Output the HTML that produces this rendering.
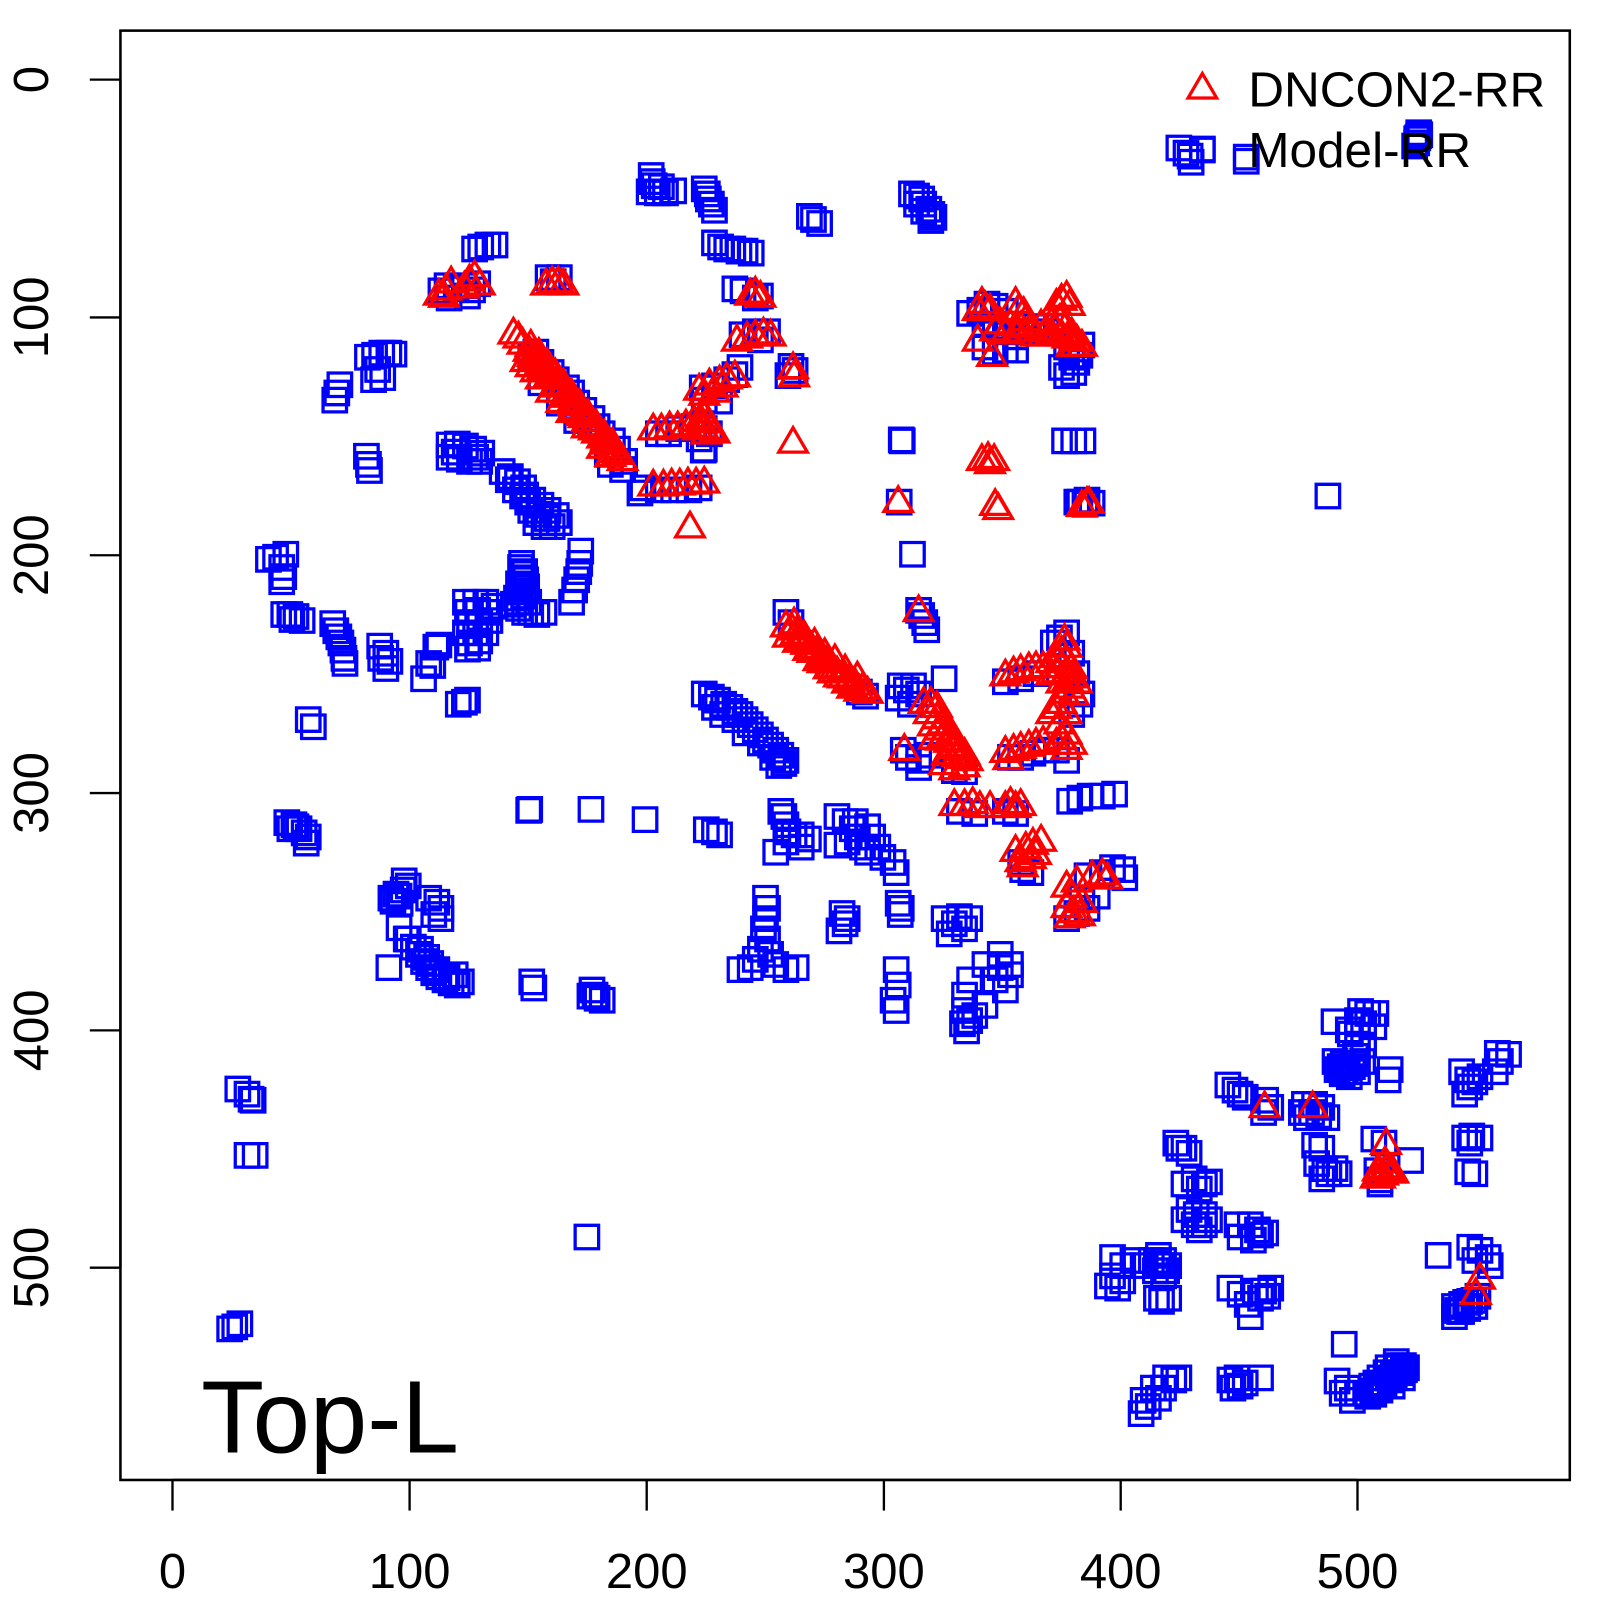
<!DOCTYPE html>
<html><head><meta charset="utf-8"><style>html,body{margin:0;padding:0;background:#fff}svg{display:block}</style></head>
<body>
<svg width="1600" height="1600" viewBox="0 0 1567.6 1567.6" xmlns="http://www.w3.org/2000/svg" font-family="'Liberation Sans', Arial, sans-serif">
<defs>
<path id="q" d="M-11.5,-11.5h23v23h-23z" fill="none" stroke="#0000ff" stroke-width="3.2"/>
<path id="t" d="M0,-16L14,8H-14z" fill="none" stroke="#ff0000" stroke-width="3.2"/>
</defs>
<rect width="1567.6" height="1567.6" fill="#fff"/>
<g id="squares">
<use href="#q" x="465" y="244"/><use href="#q" x="478" y="240"/><use href="#q" x="485" y="240"/><use href="#q" x="471" y="242"/>
<use href="#q" x="432" y="285"/><use href="#q" x="438" y="280"/><use href="#q" x="447" y="283"/><use href="#q" x="455" y="280"/><use href="#q" x="463" y="284"/><use href="#q" x="440" y="292"/><use href="#q" x="458" y="290"/><use href="#q" x="468" y="278"/>
<use href="#q" x="537" y="272"/><use href="#q" x="548" y="272"/><use href="#q" x="542" y="276"/>
<use href="#q" x="360" y="350"/><use href="#q" x="367" y="348"/><use href="#q" x="374" y="346"/><use href="#q" x="381" y="346"/><use href="#q" x="386" y="347"/><use href="#q" x="366" y="372"/><use href="#q" x="375" y="370"/><use href="#q" x="370" y="362"/><use href="#q" x="328" y="392"/><use href="#q" x="333" y="377"/><use href="#q" x="330" y="385"/>
<use href="#q" x="359" y="447"/><use href="#q" x="361" y="455"/><use href="#q" x="362" y="461"/>
<use href="#q" x="440" y="436"/><use href="#q" x="448" y="435"/><use href="#q" x="456" y="437"/><use href="#q" x="464" y="440"/><use href="#q" x="472" y="444"/><use href="#q" x="440" y="448"/><use href="#q" x="450" y="450"/><use href="#q" x="460" y="452"/><use href="#q" x="470" y="452"/><use href="#q" x="445" y="443"/><use href="#q" x="466" y="448"/>
<use href="#q" x="492" y="462"/><use href="#q" x="500" y="467"/><use href="#q" x="507" y="472"/><use href="#q" x="513" y="478"/><use href="#q" x="498" y="470"/>
<use href="#q" x="515" y="485"/><use href="#q" x="522" y="490"/><use href="#q" x="530" y="495"/><use href="#q" x="537" y="500"/>
<use href="#q" x="520" y="350"/><use href="#q" x="525" y="345"/><use href="#q" x="530" y="355"/><use href="#q" x="540" y="365"/><use href="#q" x="545" y="372"/><use href="#q" x="555" y="380"/><use href="#q" x="560" y="385"/><use href="#q" x="565" y="395"/><use href="#q" x="572" y="402"/><use href="#q" x="580" y="410"/><use href="#q" x="585" y="418"/><use href="#q" x="590" y="425"/><use href="#q" x="600" y="432"/><use href="#q" x="605" y="440"/><use href="#q" x="612" y="452"/><use href="#q" x="595" y="445"/><use href="#q" x="530" y="375"/><use href="#q" x="548" y="395"/><use href="#q" x="565" y="412"/><use href="#q" x="610" y="460"/><use href="#q" x="598" y="455"/>
<use href="#q" x="638" y="172"/><use href="#q" x="639" y="178"/><use href="#q" x="636" y="188"/><use href="#q" x="644" y="189"/><use href="#q" x="652" y="189"/><use href="#q" x="660" y="187"/><use href="#q" x="648" y="183"/><use href="#q" x="641" y="182"/>
<use href="#q" x="690" y="185"/><use href="#q" x="693" y="190"/><use href="#q" x="694" y="195"/><use href="#q" x="697" y="200"/><use href="#q" x="700" y="206"/>
<use href="#q" x="793" y="212"/><use href="#q" x="797" y="215"/><use href="#q" x="803" y="219"/>
<use href="#q" x="700" y="238"/><use href="#q" x="706" y="242"/><use href="#q" x="712" y="244"/><use href="#q" x="718" y="244"/><use href="#q" x="724" y="246"/><use href="#q" x="730" y="246"/><use href="#q" x="736" y="248"/>
<use href="#q" x="720" y="283"/><use href="#q" x="728" y="285"/><use href="#q" x="740" y="292"/><use href="#q" x="745" y="290"/>
<use href="#q" x="727" y="328"/><use href="#q" x="740" y="325"/><use href="#q" x="752" y="325"/><use href="#q" x="745" y="333"/>
<use href="#q" x="775" y="359"/><use href="#q" x="772" y="368"/><use href="#q" x="779" y="363"/>
<use href="#q" x="688" y="380"/><use href="#q" x="700" y="378"/><use href="#q" x="712" y="372"/><use href="#q" x="690" y="392"/><use href="#q" x="705" y="393"/><use href="#q" x="720" y="367"/><use href="#q" x="725" y="360"/>
<use href="#q" x="645" y="425"/><use href="#q" x="655" y="425"/><use href="#q" x="665" y="420"/><use href="#q" x="680" y="418"/><use href="#q" x="690" y="420"/><use href="#q" x="695" y="425"/><use href="#q" x="685" y="430"/><use href="#q" x="690" y="440"/><use href="#q" x="689" y="441"/>
<use href="#q" x="630" y="478"/><use href="#q" x="645" y="480"/><use href="#q" x="660" y="480"/><use href="#q" x="675" y="480"/><use href="#q" x="685" y="478"/><use href="#q" x="627" y="483"/>
<use href="#q" x="893" y="190"/><use href="#q" x="898" y="192"/><use href="#q" x="903" y="195"/><use href="#q" x="898" y="200"/><use href="#q" x="905" y="200"/><use href="#q" x="910" y="205"/><use href="#q" x="913" y="210"/><use href="#q" x="915" y="213"/><use href="#q" x="905" y="207"/><use href="#q" x="912" y="216"/>
<use href="#q" x="883" y="431"/><use href="#q" x="884" y="432"/><use href="#q" x="881" y="492"/><use href="#q" x="894" y="543"/>
<use href="#q" x="1043" y="432"/><use href="#q" x="1052" y="432"/><use href="#q" x="1061" y="432"/>
<use href="#q" x="1058" y="492"/><use href="#q" x="1063" y="494"/><use href="#q" x="1055" y="492"/><use href="#q" x="1065" y="490"/><use href="#q" x="1070" y="493"/>
<use href="#q" x="1301" y="486"/>
<use href="#q" x="950" y="307"/><use href="#q" x="960" y="304"/><use href="#q" x="967" y="298"/><use href="#q" x="975" y="300"/><use href="#q" x="985" y="305"/><use href="#q" x="965" y="318"/><use href="#q" x="975" y="320"/><use href="#q" x="985" y="325"/><use href="#q" x="995" y="330"/><use href="#q" x="1005" y="325"/><use href="#q" x="1015" y="320"/><use href="#q" x="1025" y="325"/><use href="#q" x="1035" y="320"/><use href="#q" x="965" y="340"/><use href="#q" x="975" y="345"/><use href="#q" x="985" y="343"/><use href="#q" x="995" y="343"/><use href="#q" x="1045" y="340"/><use href="#q" x="1050" y="350"/><use href="#q" x="1055" y="355"/><use href="#q" x="1052" y="365"/><use href="#q" x="1045" y="368"/><use href="#q" x="1058" y="348"/><use href="#q" x="1060" y="338"/><use href="#q" x="1040" y="360"/>
<use href="#q" x="1155" y="145"/><use href="#q" x="1166" y="153"/><use href="#q" x="1167" y="159"/><use href="#q" x="1178" y="147"/><use href="#q" x="1162" y="150"/><use href="#q" x="1221" y="154"/><use href="#q" x="1221" y="158"/>
<use href="#q" x="1388" y="136"/><use href="#q" x="1388" y="140"/><use href="#q" x="1386" y="143"/><use href="#q" x="1390" y="133"/><use href="#q" x="1389" y="135"/><use href="#q" x="1390" y="130"/><use href="#q" x="1391" y="132"/>
<use href="#q" x="505" y="480"/><use href="#q" x="512" y="486"/><use href="#q" x="517" y="492"/><use href="#q" x="520" y="500"/><use href="#q" x="528" y="504"/><use href="#q" x="525" y="512"/><use href="#q" x="533" y="516"/><use href="#q" x="541" y="516"/><use href="#q" x="548" y="512"/><use href="#q" x="536" y="508"/><use href="#q" x="545" y="505"/>
<use href="#q" x="569" y="540"/><use href="#q" x="568" y="552"/><use href="#q" x="567" y="560"/><use href="#q" x="565" y="568"/><use href="#q" x="563" y="578"/><use href="#q" x="560" y="590"/>
<use href="#q" x="510" y="556"/><use href="#q" x="514" y="560"/><use href="#q" x="512" y="566"/><use href="#q" x="508" y="572"/><use href="#q" x="510" y="580"/><use href="#q" x="506" y="586"/><use href="#q" x="503" y="592"/><use href="#q" x="508" y="596"/><use href="#q" x="514" y="600"/><use href="#q" x="518" y="590"/><use href="#q" x="516" y="575"/><use href="#q" x="520" y="600"/><use href="#q" x="526" y="602"/><use href="#q" x="533" y="600"/>
<use href="#q" x="456" y="590"/><use href="#q" x="466" y="590"/><use href="#q" x="476" y="590"/><use href="#q" x="484" y="594"/><use href="#q" x="458" y="600"/><use href="#q" x="468" y="598"/><use href="#q" x="478" y="600"/><use href="#q" x="460" y="610"/><use href="#q" x="470" y="610"/><use href="#q" x="480" y="608"/><use href="#q" x="456" y="620"/><use href="#q" x="466" y="620"/><use href="#q" x="476" y="620"/><use href="#q" x="460" y="630"/><use href="#q" x="470" y="628"/><use href="#q" x="458" y="636"/><use href="#q" x="468" y="635"/>
<use href="#q" x="427" y="634"/><use href="#q" x="430" y="632"/><use href="#q" x="424" y="652"/><use href="#q" x="420" y="650"/><use href="#q" x="415" y="665"/>
<use href="#q" x="449" y="690"/><use href="#q" x="458" y="686"/><use href="#q" x="455" y="688"/>
<use href="#q" x="372" y="633"/><use href="#q" x="378" y="640"/><use href="#q" x="382" y="648"/><use href="#q" x="378" y="655"/><use href="#q" x="373" y="645"/>
<use href="#q" x="326" y="611"/><use href="#q" x="329" y="618"/><use href="#q" x="332" y="624"/><use href="#q" x="334" y="630"/><use href="#q" x="336" y="637"/><use href="#q" x="337" y="645"/><use href="#q" x="338" y="650"/>
<use href="#q" x="278" y="602"/><use href="#q" x="284" y="602"/><use href="#q" x="290" y="604"/><use href="#q" x="296" y="608"/><use href="#q" x="286" y="607"/>
<use href="#q" x="263" y="548"/><use href="#q" x="270" y="546"/><use href="#q" x="280" y="543"/><use href="#q" x="276" y="556"/><use href="#q" x="278" y="565"/><use href="#q" x="276" y="570"/>
<use href="#q" x="302" y="705"/><use href="#q" x="307" y="712"/>
<use href="#q" x="281" y="806"/><use href="#q" x="288" y="808"/><use href="#q" x="293" y="812"/><use href="#q" x="298" y="816"/><use href="#q" x="302" y="820"/><use href="#q" x="300" y="826"/><use href="#q" x="290" y="810"/><use href="#q" x="284" y="812"/>
<use href="#q" x="518" y="794"/><use href="#q" x="519" y="793"/><use href="#q" x="579" y="793"/>
<use href="#q" x="396" y="863"/><use href="#q" x="391" y="878"/><use href="#q" x="385" y="883"/><use href="#q" x="383" y="880"/><use href="#q" x="388" y="876"/><use href="#q" x="395" y="872"/><use href="#q" x="400" y="868"/><use href="#q" x="392" y="885"/>
<use href="#q" x="420" y="880"/><use href="#q" x="428" y="884"/><use href="#q" x="432" y="890"/><use href="#q" x="425" y="896"/><use href="#q" x="432" y="900"/>
<use href="#q" x="391" y="909"/><use href="#q" x="398" y="920"/>
<use href="#q" x="400" y="920"/><use href="#q" x="405" y="928"/><use href="#q" x="410" y="935"/><use href="#q" x="415" y="942"/><use href="#q" x="420" y="948"/><use href="#q" x="425" y="953"/><use href="#q" x="430" y="957"/><use href="#q" x="436" y="960"/><use href="#q" x="442" y="963"/><use href="#q" x="448" y="965"/><use href="#q" x="452" y="962"/><use href="#q" x="446" y="955"/>
<use href="#q" x="381" y="948"/><use href="#q" x="521" y="962"/><use href="#q" x="523" y="968"/>
<use href="#q" x="580" y="970"/><use href="#q" x="583" y="975"/><use href="#q" x="578" y="976"/><use href="#q" x="585" y="978"/><use href="#q" x="590" y="980"/>
<use href="#q" x="233" y="1067"/><use href="#q" x="242" y="1072"/><use href="#q" x="246" y="1077"/><use href="#q" x="248" y="1078"/><use href="#q" x="242" y="1132"/><use href="#q" x="250" y="1132"/><use href="#q" x="575" y="1212"/><use href="#q" x="225" y="1302"/><use href="#q" x="230" y="1300"/><use href="#q" x="235" y="1297"/>
<use href="#q" x="770" y="600"/><use href="#q" x="775" y="610"/><use href="#q" x="842" y="678"/><use href="#q" x="848" y="682"/>
<use href="#q" x="690" y="680"/><use href="#q" x="697" y="683"/><use href="#q" x="703" y="686"/><use href="#q" x="709" y="690"/><use href="#q" x="715" y="693"/><use href="#q" x="720" y="697"/><use href="#q" x="725" y="700"/><use href="#q" x="730" y="705"/><use href="#q" x="735" y="710"/><use href="#q" x="740" y="715"/><use href="#q" x="745" y="720"/><use href="#q" x="750" y="725"/><use href="#q" x="755" y="730"/><use href="#q" x="760" y="735"/><use href="#q" x="765" y="740"/><use href="#q" x="768" y="748"/><use href="#q" x="763" y="750"/><use href="#q" x="708" y="700"/><use href="#q" x="720" y="705"/><use href="#q" x="700" y="693"/><use href="#q" x="730" y="718"/><use href="#q" x="745" y="728"/><use href="#q" x="757" y="742"/><use href="#q" x="770" y="745"/>
<use href="#q" x="882" y="672"/><use href="#q" x="888" y="676"/><use href="#q" x="895" y="672"/><use href="#q" x="900" y="680"/><use href="#q" x="925" y="665"/><use href="#q" x="880" y="684"/><use href="#q" x="892" y="690"/>
<use href="#q" x="900" y="598"/><use href="#q" x="903" y="603"/><use href="#q" x="906" y="610"/><use href="#q" x="908" y="617"/>
<use href="#q" x="885" y="735"/><use href="#q" x="890" y="742"/><use href="#q" x="900" y="745"/><use href="#q" x="910" y="740"/><use href="#q" x="935" y="755"/><use href="#q" x="945" y="756"/><use href="#q" x="900" y="752"/>
<use href="#q" x="940" y="795"/><use href="#q" x="955" y="797"/><use href="#q" x="985" y="795"/><use href="#q" x="995" y="797"/>
<use href="#q" x="1032" y="630"/><use href="#q" x="1038" y="625"/><use href="#q" x="1045" y="620"/><use href="#q" x="1050" y="640"/><use href="#q" x="1055" y="660"/><use href="#q" x="1060" y="680"/><use href="#q" x="985" y="668"/><use href="#q" x="1000" y="665"/><use href="#q" x="1015" y="660"/><use href="#q" x="1050" y="700"/><use href="#q" x="1058" y="690"/>
<use href="#q" x="990" y="742"/><use href="#q" x="1000" y="742"/><use href="#q" x="1012" y="738"/><use href="#q" x="1025" y="735"/><use href="#q" x="1035" y="735"/><use href="#q" x="1045" y="745"/>
<use href="#q" x="1048" y="785"/><use href="#q" x="1058" y="782"/><use href="#q" x="1068" y="780"/><use href="#q" x="1080" y="780"/><use href="#q" x="1092" y="778"/>
<use href="#q" x="1002" y="852"/><use href="#q" x="1010" y="855"/><use href="#q" x="1000" y="845"/>
<use href="#q" x="1065" y="858"/><use href="#q" x="1080" y="855"/><use href="#q" x="1090" y="850"/><use href="#q" x="1100" y="852"/><use href="#q" x="1102" y="860"/><use href="#q" x="1060" y="880"/><use href="#q" x="1055" y="895"/><use href="#q" x="1065" y="890"/><use href="#q" x="1075" y="878"/><use href="#q" x="1045" y="900"/>
<use href="#q" x="632" y="803"/><use href="#q" x="692" y="813"/><use href="#q" x="700" y="815"/><use href="#q" x="705" y="818"/>
<use href="#q" x="765" y="795"/><use href="#q" x="768" y="800"/><use href="#q" x="770" y="808"/><use href="#q" x="772" y="815"/><use href="#q" x="778" y="818"/><use href="#q" x="785" y="818"/><use href="#q" x="792" y="822"/><use href="#q" x="760" y="835"/><use href="#q" x="770" y="825"/><use href="#q" x="785" y="830"/>
<use href="#q" x="820" y="800"/><use href="#q" x="828" y="805"/><use href="#q" x="835" y="812"/><use href="#q" x="840" y="820"/><use href="#q" x="830" y="825"/><use href="#q" x="820" y="828"/><use href="#q" x="845" y="830"/><use href="#q" x="850" y="835"/><use href="#q" x="855" y="820"/><use href="#q" x="860" y="830"/><use href="#q" x="865" y="840"/><use href="#q" x="875" y="845"/><use href="#q" x="878" y="855"/><use href="#q" x="838" y="805"/><use href="#q" x="850" y="810"/>
<use href="#q" x="750" y="880"/><use href="#q" x="752" y="890"/><use href="#q" x="750" y="900"/><use href="#q" x="748" y="910"/><use href="#q" x="752" y="920"/><use href="#q" x="745" y="930"/><use href="#q" x="740" y="940"/><use href="#q" x="760" y="945"/><use href="#q" x="770" y="950"/><use href="#q" x="780" y="948"/><use href="#q" x="725" y="950"/><use href="#q" x="735" y="948"/><use href="#q" x="755" y="935"/>
<use href="#q" x="825" y="895"/><use href="#q" x="828" y="905"/><use href="#q" x="822" y="912"/><use href="#q" x="830" y="900"/>
<use href="#q" x="880" y="885"/><use href="#q" x="883" y="890"/><use href="#q" x="882" y="896"/>
<use href="#q" x="925" y="900"/><use href="#q" x="935" y="905"/><use href="#q" x="940" y="898"/><use href="#q" x="950" y="900"/><use href="#q" x="930" y="915"/><use href="#q" x="945" y="910"/>
<use href="#q" x="878" y="950"/><use href="#q" x="880" y="965"/><use href="#q" x="875" y="980"/><use href="#q" x="878" y="990"/>
<use href="#q" x="965" y="945"/><use href="#q" x="980" y="948"/><use href="#q" x="990" y="955"/><use href="#q" x="975" y="960"/><use href="#q" x="985" y="970"/><use href="#q" x="950" y="960"/><use href="#q" x="945" y="975"/><use href="#q" x="945" y="990"/><use href="#q" x="955" y="995"/><use href="#q" x="965" y="985"/><use href="#q" x="990" y="945"/><use href="#q" x="980" y="935"/>
<use href="#q" x="943" y="1003"/><use href="#q" x="950" y="1000"/><use href="#q" x="947" y="1010"/>
<use href="#q" x="1307" y="1001"/><use href="#q" x="1333" y="991"/><use href="#q" x="1340" y="993"/><use href="#q" x="1348" y="993"/><use href="#q" x="1336" y="1003"/><use href="#q" x="1346" y="1006"/><use href="#q" x="1321" y="1009"/><use href="#q" x="1330" y="1000"/>
<use href="#q" x="1323" y="1013"/><use href="#q" x="1336" y="1024"/><use href="#q" x="1330" y="1026"/>
<use href="#q" x="1308" y="1040"/><use href="#q" x="1316" y="1042"/><use href="#q" x="1325" y="1045"/><use href="#q" x="1318" y="1050"/><use href="#q" x="1310" y="1048"/><use href="#q" x="1322" y="1055"/><use href="#q" x="1330" y="1050"/><use href="#q" x="1328" y="1035"/><use href="#q" x="1335" y="1040"/>
<use href="#q" x="1362" y="1048"/><use href="#q" x="1360" y="1058"/>
<use href="#q" x="1432" y="1050"/><use href="#q" x="1438" y="1058"/><use href="#q" x="1440" y="1065"/><use href="#q" x="1435" y="1072"/><use href="#q" x="1445" y="1060"/><use href="#q" x="1450" y="1055"/>
<use href="#q" x="1467" y="1032"/><use href="#q" x="1478" y="1033"/><use href="#q" x="1470" y="1040"/><use href="#q" x="1465" y="1050"/>
<use href="#q" x="1203" y="1063"/><use href="#q" x="1210" y="1068"/><use href="#q" x="1215" y="1072"/><use href="#q" x="1220" y="1075"/><use href="#q" x="1240" y="1078"/><use href="#q" x="1245" y="1085"/><use href="#q" x="1238" y="1090"/>
<use href="#q" x="1278" y="1082"/><use href="#q" x="1288" y="1082"/><use href="#q" x="1295" y="1085"/><use href="#q" x="1285" y="1090"/><use href="#q" x="1292" y="1093"/><use href="#q" x="1280" y="1095"/><use href="#q" x="1300" y="1095"/><use href="#q" x="1275" y="1090"/>
<use href="#q" x="1288" y="1122"/><use href="#q" x="1295" y="1125"/><use href="#q" x="1290" y="1140"/><use href="#q" x="1298" y="1145"/><use href="#q" x="1302" y="1150"/><use href="#q" x="1295" y="1155"/><use href="#q" x="1308" y="1145"/><use href="#q" x="1312" y="1150"/>
<use href="#q" x="1346" y="1116"/><use href="#q" x="1356" y="1120"/><use href="#q" x="1349" y="1147"/><use href="#q" x="1352" y="1156"/><use href="#q" x="1382" y="1137"/><use href="#q" x="1352" y="1160"/>
<use href="#q" x="1435" y="1115"/><use href="#q" x="1442" y="1113"/><use href="#q" x="1450" y="1115"/><use href="#q" x="1440" y="1120"/><use href="#q" x="1438" y="1148"/><use href="#q" x="1445" y="1150"/>
<use href="#q" x="1152" y="1120"/><use href="#q" x="1160" y="1125"/><use href="#q" x="1165" y="1130"/><use href="#q" x="1155" y="1125"/>
<use href="#q" x="1160" y="1160"/><use href="#q" x="1170" y="1155"/><use href="#q" x="1180" y="1160"/><use href="#q" x="1185" y="1158"/><use href="#q" x="1175" y="1165"/>
<use href="#q" x="1165" y="1185"/><use href="#q" x="1172" y="1190"/><use href="#q" x="1180" y="1190"/><use href="#q" x="1170" y="1200"/><use href="#q" x="1180" y="1200"/><use href="#q" x="1175" y="1205"/><use href="#q" x="1185" y="1195"/><use href="#q" x="1160" y="1195"/>
<use href="#q" x="1212" y="1200"/><use href="#q" x="1225" y="1200"/><use href="#q" x="1232" y="1205"/><use href="#q" x="1235" y="1210"/><use href="#q" x="1228" y="1215"/><use href="#q" x="1215" y="1212"/><use href="#q" x="1240" y="1208"/>
<use href="#q" x="1090" y="1232"/><use href="#q" x="1100" y="1240"/><use href="#q" x="1110" y="1235"/><use href="#q" x="1120" y="1240"/><use href="#q" x="1128" y="1235"/><use href="#q" x="1135" y="1230"/><use href="#q" x="1140" y="1235"/><use href="#q" x="1145" y="1240"/><use href="#q" x="1132" y="1245"/><use href="#q" x="1140" y="1250"/><use href="#q" x="1090" y="1250"/><use href="#q" x="1100" y="1255"/><use href="#q" x="1085" y="1260"/><use href="#q" x="1095" y="1262"/>
<use href="#q" x="1133" y="1272"/><use href="#q" x="1145" y="1272"/><use href="#q" x="1138" y="1275"/>
<use href="#q" x="1205" y="1262"/><use href="#q" x="1215" y="1268"/><use href="#q" x="1230" y="1265"/><use href="#q" x="1238" y="1265"/><use href="#q" x="1245" y="1262"/><use href="#q" x="1235" y="1272"/><use href="#q" x="1242" y="1270"/><use href="#q" x="1222" y="1278"/><use href="#q" x="1225" y="1290"/>
<use href="#q" x="1409" y="1230"/>
<use href="#q" x="1440" y="1222"/><use href="#q" x="1450" y="1225"/><use href="#q" x="1458" y="1232"/><use href="#q" x="1445" y="1235"/><use href="#q" x="1460" y="1240"/>
<use href="#q" x="1425" y="1280"/><use href="#q" x="1432" y="1278"/><use href="#q" x="1440" y="1275"/><use href="#q" x="1448" y="1270"/><use href="#q" x="1430" y="1285"/><use href="#q" x="1438" y="1282"/><use href="#q" x="1425" y="1290"/><use href="#q" x="1445" y="1280"/>
<use href="#q" x="1142" y="1350"/><use href="#q" x="1150" y="1352"/><use href="#q" x="1155" y="1350"/><use href="#q" x="1140" y="1360"/><use href="#q" x="1130" y="1360"/><use href="#q" x="1120" y="1372"/><use href="#q" x="1125" y="1378"/><use href="#q" x="1118" y="1385"/><use href="#q" x="1135" y="1370"/>
<use href="#q" x="1205" y="1352"/><use href="#q" x="1212" y="1350"/><use href="#q" x="1220" y="1355"/><use href="#q" x="1235" y="1350"/><use href="#q" x="1208" y="1360"/><use href="#q" x="1215" y="1358"/>
<use href="#q" x="1317" y="1317"/>
<use href="#q" x="1310" y="1353"/><use href="#q" x="1320" y="1360"/><use href="#q" x="1330" y="1365"/><use href="#q" x="1315" y="1365"/><use href="#q" x="1325" y="1372"/>
<use href="#q" x="1375" y="1338"/><use href="#q" x="1370" y="1340"/><use href="#q" x="1365" y="1345"/><use href="#q" x="1360" y="1350"/><use href="#q" x="1355" y="1355"/><use href="#q" x="1350" y="1360"/><use href="#q" x="1345" y="1363"/><use href="#q" x="1340" y="1368"/><use href="#q" x="1372" y="1345"/><use href="#q" x="1362" y="1352"/><use href="#q" x="1352" y="1362"/><use href="#q" x="1368" y="1338"/><use href="#q" x="1358" y="1345"/><use href="#q" x="1348" y="1355"/><use href="#q" x="1378" y="1340"/>
<!-- extra density -->
<use href="#q" x="1376" y="1342"/><use href="#q" x="1366" y="1348"/><use href="#q" x="1356" y="1358"/><use href="#q" x="1346" y="1366"/><use href="#q" x="1368" y="1334"/><use href="#q" x="1360" y="1340"/><use href="#q" x="1352" y="1350"/><use href="#q" x="1344" y="1358"/><use href="#q" x="1374" y="1350"/><use href="#q" x="1364" y="1358"/>
<use href="#q" x="511" y="562"/><use href="#q" x="509" y="576"/><use href="#q" x="507" y="590"/><use href="#q" x="513" y="584"/><use href="#q" x="515" y="568"/><use href="#q" x="511" y="552"/>
<use href="#q" x="1432" y="1285"/><use href="#q" x="1436" y="1276"/><use href="#q" x="1444" y="1274"/><use href="#q" x="1428" y="1284"/>
<use href="#q" x="1138" y="1240"/><use href="#q" x="1143" y="1245"/><use href="#q" x="1135" y="1238"/>
<use href="#q" x="1313" y="1045"/><use href="#q" x="1320" y="1046"/><use href="#q" x="1327" y="1042"/><use href="#q" x="1315" y="1052"/>
<use href="#q" x="412" y="930"/><use href="#q" x="418" y="938"/><use href="#q" x="428" y="950"/><use href="#q" x="438" y="958"/><use href="#q" x="422" y="944"/>
</g>
<g id="triangles">
<use href="#t" x="430" y="290"/><use href="#t" x="437" y="285"/><use href="#t" x="442" y="278"/><use href="#t" x="455" y="283"/><use href="#t" x="460" y="276"/><use href="#t" x="465" y="272"/><use href="#t" x="470" y="280"/><use href="#t" x="435" y="292"/>
<use href="#t" x="535" y="280"/><use href="#t" x="541" y="278"/><use href="#t" x="547" y="278"/><use href="#t" x="552" y="280"/>
<use href="#t" x="503" y="328"/><use href="#t" x="508" y="332"/><use href="#t" x="512" y="338"/><use href="#t" x="518" y="345"/><use href="#t" x="522" y="350"/><use href="#t" x="526" y="355"/><use href="#t" x="530" y="360"/><use href="#t" x="535" y="365"/><use href="#t" x="540" y="372"/><use href="#t" x="545" y="378"/><use href="#t" x="550" y="385"/><use href="#t" x="555" y="390"/><use href="#t" x="560" y="396"/><use href="#t" x="565" y="402"/><use href="#t" x="570" y="408"/><use href="#t" x="575" y="414"/><use href="#t" x="580" y="420"/><use href="#t" x="585" y="425"/><use href="#t" x="590" y="430"/><use href="#t" x="595" y="436"/><use href="#t" x="600" y="440"/><use href="#t" x="605" y="446"/><use href="#t" x="610" y="452"/><use href="#t" x="520" y="340"/><use href="#t" x="528" y="348"/><use href="#t" x="536" y="358"/><use href="#t" x="544" y="368"/><use href="#t" x="552" y="378"/><use href="#t" x="560" y="388"/><use href="#t" x="568" y="398"/><use href="#t" x="576" y="408"/><use href="#t" x="584" y="418"/><use href="#t" x="592" y="428"/><use href="#t" x="600" y="436"/><use href="#t" x="520" y="360"/><use href="#t" x="530" y="372"/><use href="#t" x="540" y="385"/><use href="#t" x="550" y="395"/><use href="#t" x="560" y="405"/><use href="#t" x="575" y="420"/><use href="#t" x="590" y="440"/><use href="#t" x="598" y="448"/><use href="#t" x="515" y="355"/><use href="#t" x="525" y="365"/>
<use href="#t" x="524" y="352"/><use href="#t" x="532" y="362"/><use href="#t" x="538" y="370"/><use href="#t" x="546" y="380"/><use href="#t" x="554" y="388"/><use href="#t" x="562" y="398"/><use href="#t" x="572" y="410"/><use href="#t" x="582" y="422"/><use href="#t" x="594" y="432"/><use href="#t" x="604" y="444"/>
<use href="#t" x="735" y="290"/><use href="#t" x="740" y="288"/><use href="#t" x="745" y="292"/>
<use href="#t" x="722" y="335"/><use href="#t" x="732" y="332"/><use href="#t" x="740" y="330"/><use href="#t" x="748" y="328"/><use href="#t" x="755" y="330"/>
<use href="#t" x="777" y="362"/><use href="#t" x="778" y="370"/>
<use href="#t" x="685" y="383"/><use href="#t" x="695" y="378"/><use href="#t" x="705" y="375"/><use href="#t" x="712" y="372"/><use href="#t" x="720" y="370"/><use href="#t" x="700" y="385"/><use href="#t" x="690" y="388"/><use href="#t" x="708" y="380"/>
<use href="#t" x="640" y="422"/><use href="#t" x="648" y="422"/><use href="#t" x="656" y="420"/><use href="#t" x="664" y="420"/><use href="#t" x="672" y="418"/><use href="#t" x="680" y="414"/><use href="#t" x="686" y="412"/><use href="#t" x="690" y="410"/><use href="#t" x="694" y="415"/><use href="#t" x="688" y="420"/><use href="#t" x="696" y="422"/><use href="#t" x="700" y="425"/><use href="#t" x="684" y="422"/><use href="#t" x="692" y="426"/>
<use href="#t" x="640" y="477"/><use href="#t" x="650" y="477"/><use href="#t" x="658" y="476"/><use href="#t" x="666" y="476"/><use href="#t" x="674" y="475"/><use href="#t" x="682" y="475"/><use href="#t" x="690" y="474"/>
<use href="#t" x="777" y="435"/>
<use href="#t" x="962" y="452"/><use href="#t" x="968" y="450"/><use href="#t" x="974" y="452"/><use href="#t" x="970" y="455"/>
<use href="#t" x="880" y="493"/><use href="#t" x="975" y="496"/><use href="#t" x="978" y="500"/><use href="#t" x="1060" y="497"/><use href="#t" x="1065" y="494"/><use href="#t" x="1067" y="494"/>
<use href="#t" x="676" y="518"/>
<use href="#t" x="958" y="305"/><use href="#t" x="965" y="302"/><use href="#t" x="970" y="305"/><use href="#t" x="962" y="298"/><use href="#t" x="998" y="305"/><use href="#t" x="1003" y="308"/><use href="#t" x="995" y="298"/><use href="#t" x="958" y="335"/><use href="#t" x="972" y="350"/><use href="#t" x="980" y="318"/><use href="#t" x="990" y="320"/><use href="#t" x="1000" y="322"/><use href="#t" x="1010" y="322"/><use href="#t" x="1020" y="320"/><use href="#t" x="1030" y="318"/><use href="#t" x="1038" y="315"/><use href="#t" x="1044" y="322"/><use href="#t" x="1050" y="328"/><use href="#t" x="1055" y="335"/><use href="#t" x="1060" y="340"/><use href="#t" x="1035" y="300"/><use href="#t" x="1040" y="295"/><use href="#t" x="1045" y="292"/><use href="#t" x="1048" y="300"/><use href="#t" x="1015" y="330"/><use href="#t" x="1025" y="325"/><use href="#t" x="985" y="328"/><use href="#t" x="975" y="325"/><use href="#t" x="1005" y="315"/><use href="#t" x="1050" y="340"/><use href="#t" x="1040" y="330"/><use href="#t" x="1030" y="328"/>
<use href="#t" x="1012" y="326"/><use href="#t" x="1022" y="330"/><use href="#t" x="1034" y="324"/><use href="#t" x="1046" y="332"/><use href="#t" x="1054" y="340"/><use href="#t" x="996" y="326"/>
<use href="#t" x="900" y="600"/><use href="#t" x="886" y="736"/>
<use href="#t" x="770" y="615"/><use href="#t" x="776" y="618"/><use href="#t" x="780" y="622"/><use href="#t" x="785" y="628"/><use href="#t" x="790" y="632"/><use href="#t" x="795" y="636"/><use href="#t" x="800" y="640"/><use href="#t" x="805" y="645"/><use href="#t" x="810" y="650"/><use href="#t" x="815" y="655"/><use href="#t" x="820" y="660"/><use href="#t" x="826" y="665"/><use href="#t" x="832" y="668"/><use href="#t" x="838" y="672"/><use href="#t" x="845" y="676"/><use href="#t" x="778" y="612"/><use href="#t" x="788" y="625"/><use href="#t" x="798" y="632"/><use href="#t" x="808" y="642"/><use href="#t" x="818" y="648"/><use href="#t" x="828" y="658"/><use href="#t" x="840" y="665"/><use href="#t" x="772" y="625"/><use href="#t" x="782" y="630"/><use href="#t" x="792" y="638"/><use href="#t" x="802" y="648"/><use href="#t" x="812" y="656"/><use href="#t" x="822" y="664"/><use href="#t" x="835" y="675"/><use href="#t" x="850" y="680"/>
<use href="#t" x="784" y="624"/><use href="#t" x="796" y="640"/><use href="#t" x="806" y="650"/><use href="#t" x="816" y="660"/><use href="#t" x="830" y="670"/><use href="#t" x="842" y="678"/>
<use href="#t" x="905" y="690"/><use href="#t" x="912" y="690"/><use href="#t" x="918" y="694"/><use href="#t" x="910" y="700"/><use href="#t" x="918" y="705"/><use href="#t" x="924" y="710"/><use href="#t" x="920" y="716"/><use href="#t" x="925" y="722"/><use href="#t" x="930" y="728"/><use href="#t" x="935" y="732"/><use href="#t" x="940" y="736"/><use href="#t" x="945" y="740"/><use href="#t" x="915" y="725"/><use href="#t" x="928" y="740"/><use href="#t" x="938" y="742"/><use href="#t" x="948" y="746"/><use href="#t" x="932" y="720"/>
<use href="#t" x="914" y="712"/><use href="#t" x="922" y="726"/><use href="#t" x="932" y="734"/><use href="#t" x="942" y="744"/>
<use href="#t" x="925" y="750"/><use href="#t" x="935" y="755"/><use href="#t" x="945" y="752"/>
<use href="#t" x="935" y="790"/><use href="#t" x="945" y="790"/><use href="#t" x="953" y="788"/><use href="#t" x="960" y="792"/><use href="#t" x="970" y="792"/><use href="#t" x="985" y="792"/><use href="#t" x="990" y="788"/><use href="#t" x="995" y="792"/><use href="#t" x="1000" y="790"/>
<use href="#t" x="985" y="663"/><use href="#t" x="993" y="660"/><use href="#t" x="1000" y="658"/><use href="#t" x="1008" y="656"/><use href="#t" x="1015" y="655"/><use href="#t" x="1022" y="655"/><use href="#t" x="1030" y="650"/><use href="#t" x="1035" y="645"/><use href="#t" x="1040" y="640"/><use href="#t" x="1045" y="635"/><use href="#t" x="1043" y="628"/><use href="#t" x="1040" y="655"/><use href="#t" x="1045" y="660"/><use href="#t" x="1050" y="665"/><use href="#t" x="1055" y="670"/><use href="#t" x="1035" y="660"/><use href="#t" x="1048" y="675"/><use href="#t" x="1052" y="682"/><use href="#t" x="1040" y="670"/><use href="#t" x="1030" y="662"/>
<use href="#t" x="1044" y="648"/><use href="#t" x="1050" y="656"/><use href="#t" x="1046" y="668"/><use href="#t" x="1042" y="680"/>
<use href="#t" x="1040" y="690"/><use href="#t" x="1035" y="695"/><use href="#t" x="1030" y="700"/><use href="#t" x="1045" y="700"/><use href="#t" x="1038" y="710"/><use href="#t" x="1045" y="720"/><use href="#t" x="1040" y="725"/><use href="#t" x="1035" y="730"/><use href="#t" x="1045" y="735"/><use href="#t" x="1050" y="730"/>
<use href="#t" x="985" y="738"/><use href="#t" x="993" y="736"/><use href="#t" x="1000" y="734"/><use href="#t" x="1008" y="732"/><use href="#t" x="1015" y="730"/><use href="#t" x="1022" y="728"/><use href="#t" x="988" y="745"/>
<use href="#t" x="995" y="835"/><use href="#t" x="1005" y="832"/><use href="#t" x="1012" y="828"/><use href="#t" x="1020" y="825"/><use href="#t" x="1000" y="845"/><use href="#t" x="1010" y="842"/><use href="#t" x="1002" y="850"/><use href="#t" x="1015" y="838"/>
<use href="#t" x="1045" y="870"/><use href="#t" x="1055" y="865"/><use href="#t" x="1070" y="860"/><use href="#t" x="1080" y="858"/><use href="#t" x="1085" y="862"/><use href="#t" x="1050" y="880"/><use href="#t" x="1045" y="890"/><use href="#t" x="1052" y="895"/><use href="#t" x="1060" y="885"/><use href="#t" x="1048" y="900"/><use href="#t" x="1058" y="898"/>
<use href="#t" x="1239" y="1086"/><use href="#t" x="1286" y="1086"/>
<use href="#t" x="1358" y="1122"/><use href="#t" x="1350" y="1148"/><use href="#t" x="1358" y="1148"/><use href="#t" x="1362" y="1150"/><use href="#t" x="1355" y="1152"/><use href="#t" x="1360" y="1145"/><use href="#t" x="1352" y="1155"/><use href="#t" x="1365" y="1150"/><use href="#t" x="1357" y="1140"/><use href="#t" x="1348" y="1155"/>
<use href="#t" x="1450" y="1254"/><use href="#t" x="1446" y="1269"/>
</g>
<rect x="118" y="30" width="1420" height="1420" fill="none" stroke="#000" stroke-width="2.5"/>
<g stroke="#000" stroke-width="2.3">
<line x1="169" y1="1450" x2="1330" y2="1450"/>
<line x1="169" y1="1450" x2="169" y2="1480"/><line x1="401.3" y1="1450" x2="401.3" y2="1480"/><line x1="633.6" y1="1450" x2="633.6" y2="1480"/><line x1="866" y1="1450" x2="866" y2="1480"/><line x1="1098" y1="1450" x2="1098" y2="1480"/><line x1="1330" y1="1450" x2="1330" y2="1480"/>
<line x1="118" y1="78" x2="118" y2="1242"/>
<line x1="88" y1="78" x2="118" y2="78"/><line x1="88" y1="311" x2="118" y2="311"/><line x1="88" y1="544" x2="118" y2="544"/><line x1="88" y1="777" x2="118" y2="777"/><line x1="88" y1="1009.5" x2="118" y2="1009.5"/><line x1="88" y1="1242" x2="118" y2="1242"/>
</g>
<g font-size="48" fill="#000" text-anchor="middle">
<text x="169" y="1556">0</text><text x="401.3" y="1556">100</text><text x="633.6" y="1556">200</text><text x="866" y="1556">300</text><text x="1098" y="1556">400</text><text x="1330" y="1556">500</text>
<text transform="translate(47,78) rotate(-90)">0</text>
<text transform="translate(47,311) rotate(-90)">100</text>
<text transform="translate(47,544) rotate(-90)">200</text>
<text transform="translate(47,777) rotate(-90)">300</text>
<text transform="translate(47,1009.5) rotate(-90)">400</text>
<text transform="translate(47,1242) rotate(-90)">500</text>
</g>
<use href="#t" x="1178" y="88"/>
<use href="#q" x="1178" y="146"/>
<g font-size="48.5" fill="#000">
<text x="1223" y="104.5">DNCON2-RR</text>
<text x="1223" y="163.5">Model-RR</text>
</g>
<text x="197" y="1423" font-size="101" fill="#000">Top-L</text>
</svg>
</body></html>
